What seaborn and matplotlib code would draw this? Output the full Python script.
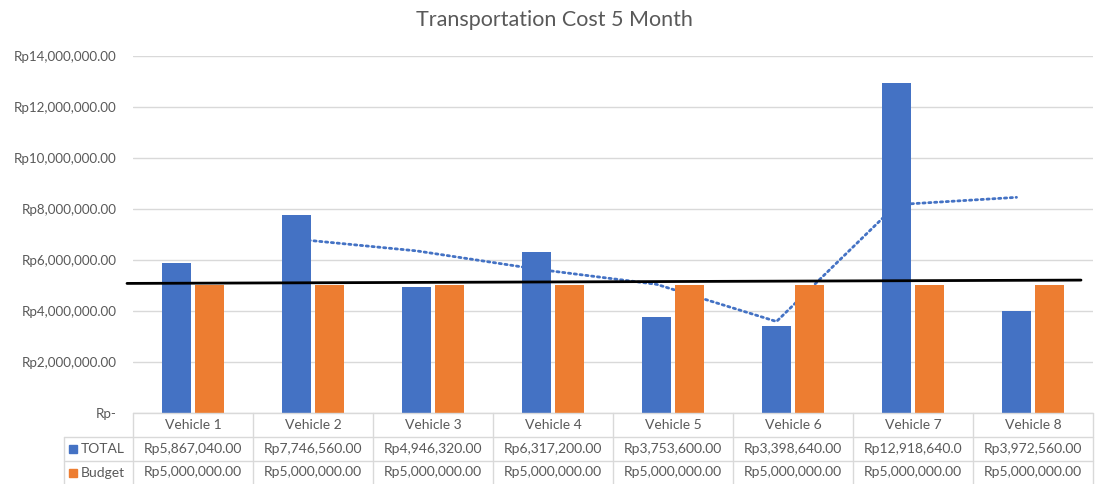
import matplotlib
matplotlib.use("Agg")
import matplotlib.pyplot as plt
import pandas as pd
import seaborn as sns

vehicles = ["Vehicle 1", "Vehicle 2", "Vehicle 3", "Vehicle 4",
            "Vehicle 5", "Vehicle 6", "Vehicle 7", "Vehicle 8"]
total = [5867040, 7746560, 4946320, 6317200, 3753600, 3398640, 12918640, 3972560]
budget = [5000000] * 8
# table text as shown in the chart (Vehicle 7 cell is cut off)
total_text = ["Rp5,867,040.00", "Rp7,746,560.00", "Rp4,946,320.00", "Rp6,317,200.00",
              "Rp3,753,600.00", "Rp3,398,640.00", "Rp12,918,640.0", "Rp3,972,560.00"]
budget_text = ["Rp5,000,000.00"] * 8
# dotted trendline (2 period moving average of TOTAL), Vehicle 2 .. Vehicle 8
trend_vehicles = vehicles[1:]
trend_values = [6806800, 6346440, 5631760, 5035400, 3576120, 8158640, 8445600]
# black reference line (left end, right end)
ref_line = [5070000, 5200000]

yticks = [0, 2e6, 4e6, 6e6, 8e6, 10e6, 12e6, 14e6]
ytick_labels = ["Rp-", "Rp2,000,000.00", "Rp4,000,000.00", "Rp6,000,000.00",
                "Rp8,000,000.00", "Rp10,000,000.00", "Rp12,000,000.00", "Rp14,000,000.00"]

blue = "#4472C4"
orange = "#ED7D31"
txt = "#595959"
grid = "#D9D9D9"

sns.set_style("white")
plt.rcParams["font.family"] = ["Lato", "DejaVu Sans"]

df = pd.DataFrame({
    "vehicle": vehicles * 2,
    "value": total + budget,
    "series": ["TOTAL"] * 8 + ["Budget"] * 8,
})

fig = plt.figure(figsize=(10.95, 4.84), dpi=100)
W, H = 1095, 484
ax = fig.add_axes([133 / W, (H - 412.7) / H, 960 / W, 357 / H])

sns.barplot(data=df, x="vehicle", y="value", hue="series",
            palette={"TOTAL": blue, "Budget": orange}, width=0.55, gap=0.15,
            saturation=1, legend=False, ax=ax, zorder=3, edgecolor="none")

# moving average trendline sits at the blue bar centres, behind the bars
off = -0.55 / 4
tx = [vehicles.index(v) + off for v in trend_vehicles]
ax.plot(tx, trend_values, color=blue, lw=2, linestyle=(0, (0.8, 1.3)),
        dash_capstyle="round", zorder=2)

ax.set_xlim(-0.5, 7.5)
ax.set_ylim(0, 14e6)
ax.set_yticks(yticks)
ax.set_yticklabels(ytick_labels, color=txt, fontsize=9.6)
ax.tick_params(axis="y", length=0, pad=12)
ax.set_xticks([])
ax.set_xlabel("")
ax.set_ylabel("")
for s in ax.spines.values():
    s.set_visible(False)
ax.grid(axis="y", color=grid, lw=1, zorder=0)
ax.set_axisbelow(True)

# black line across the plot
ax.plot([-0.55, 7.4], ref_line, color="black", lw=2, zorder=5, clip_on=False)

fig.text(554 / W, 1 - 20 / H, "Transportation Cost 5 Month", ha="center", va="center",
         color=txt, fontsize=15.5)

# data table below the plot
def fx(px):
    return px / W

def fy(py):
    return 1 - py / H

rows = [412.7, 437, 461, 485]
col0 = 64
col_w = 120
for i in range(9):
    x = 133 + i * col_w
    fig.add_artist(plt.Line2D([fx(x), fx(x)], [fy(rows[0]), fy(rows[3])], color=grid, lw=1))
fig.add_artist(plt.Line2D([fx(col0), fx(col0)], [fy(rows[1]), fy(rows[3])], color=grid, lw=1))
fig.add_artist(plt.Line2D([fx(133), fx(1093)], [fy(rows[0]), fy(rows[0])], color=grid, lw=1))
for r in rows[1:3]:
    fig.add_artist(plt.Line2D([fx(col0), fx(1093)], [fy(r), fy(r)], color=grid, lw=1))

for i, v in enumerate(vehicles):
    cx = 133 + col_w * (i + 0.5)
    fig.text(fx(cx), fy((rows[0] + rows[1]) / 2), v, ha="center", va="center",
             color=txt, fontsize=10)
    fig.text(fx(cx), fy((rows[1] + rows[2]) / 2), total_text[i], ha="center", va="center",
             color=txt, fontsize=10)
    fig.text(fx(cx), fy((rows[2] + rows[3]) / 2) + 0.002, budget_text[i], ha="center",
             va="center", color=txt, fontsize=10)

for (name, color, r0, r1) in [("TOTAL", blue, rows[1], rows[2]), ("Budget", orange, rows[2], rows[3])]:
    yc = (r0 + r1) / 2
    fig.add_artist(plt.Rectangle((fx(69), fy(yc + 4)), 8 / W, 8 / H, color=color))
    fig.text(fx(81), fy(yc), name, ha="left", va="center", color=txt, fontsize=10)

fig.savefig("out.png", dpi=100)
